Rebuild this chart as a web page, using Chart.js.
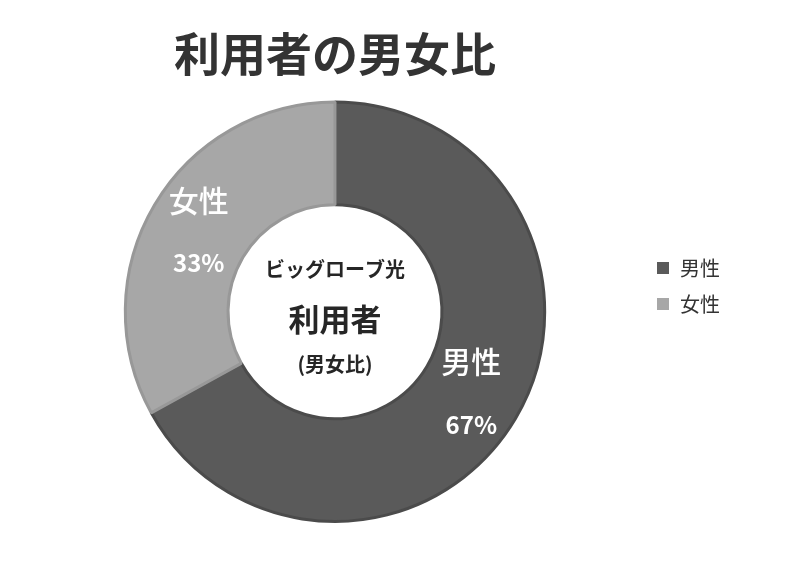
<!DOCTYPE html>
<html>
<head>
<meta charset="utf-8">
<script src="https://cdn.jsdelivr.net/npm/chart.js@4"></script>
<style>
    body { margin: 0; background: #ffffff; }
    #box { width: 800px; height: 566px; }
</style>
</head>
<body>
<div id="box"><canvas id="myChart"></canvas></div>
<script>
// dados
const categorias = ['男性', '女性'];
const valores = [67, 33];
const rotulos = ['67%', '33%'];
const cores = ['#5a5a5a', '#a7a7a7'];
const coresBorda = ['#4b4b4b', '#989898'];
const textoCentro = ['ビッグローブ光', '利用者', '(男女比)'];

const fonte = "'Noto Sans CJK JP', 'Noto Sans', sans-serif";

// rótulos nas fatias + texto no meio + legenda
const extras = {
    id: 'extras',
    afterDatasetsDraw(chart) {
        const c = chart.ctx;
        const arcos = chart.getDatasetMeta(0).data;
        c.save();
        c.textAlign = 'center';
        c.textBaseline = 'middle';
        c.fillStyle = '#ffffff';
        arcos.forEach(function (arco, i) {
            const p = arco.getCenterPoint();
            c.font = '500 30px ' + fonte;
            c.fillText(categorias[i], p.x, p.y - 31);
            c.font = 'bold 24px ' + fonte;
            c.fillText(rotulos[i], p.x, p.y + 32);
        });

        const cx = arcos[0].x;
        const cy = arcos[0].y;
        c.fillStyle = '#262626';
        c.font = 'bold 20px ' + fonte;
        c.fillText(textoCentro[0], cx, cy - 42);
        c.font = 'bold 31px ' + fonte;
        c.fillText(textoCentro[1], cx, cy + 7);
        c.font = 'bold 20px ' + fonte;
        c.fillText(textoCentro[2], cx, cy + 53);

        // legenda
        c.textAlign = 'left';
        c.font = '20px ' + fonte;
        categorias.forEach(function (nome, i) {
            const y = 268 + i * 36;
            c.fillStyle = cores[i];
            c.fillRect(657, y - 6, 12, 12);
            c.fillStyle = '#333333';
            c.fillText(nome, 680, y);
        });
        c.restore();
    }
};

const ctx = document.getElementById('myChart');

new Chart(ctx, {
    type: 'doughnut',
    data: {
        labels: categorias,
        datasets: [{
            data: valores,
            backgroundColor: cores,
            borderColor: coresBorda,
            borderWidth: 3
        }]
    },
    options: {
        responsive: true,
        maintainAspectRatio: false,
        animation: false,
        cutout: '51%',
        layout: {
            padding: { left: 25, right: 155, top: 0, bottom: 43 }
        },
        plugins: {
            legend: { display: false },
            tooltip: { enabled: false },
            title: {
                display: true,
                text: '利用者の男女比',
                fullSize: false,
                color: '#333333',
                font: { family: fonte, size: 46, weight: 'bold', lineHeight: 1.1 },
                padding: { top: 28, bottom: 22 }
            }
        }
    },
    plugins: [extras]
});
</script>
</body>
</html>
